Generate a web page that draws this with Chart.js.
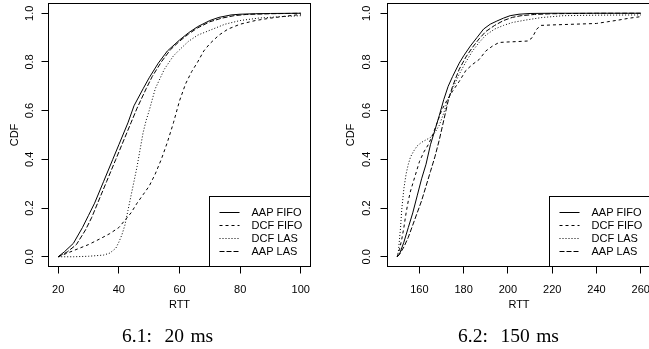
<!DOCTYPE html>
<html>
<head>
<meta charset="utf-8">
<script src="https://cdn.jsdelivr.net/npm/chart.js@4.4.0/dist/chart.umd.min.js"></script>
<style>
  html, body { margin: 0; padding: 0; background: #fff; overflow: hidden; }
  body { width: 649px; height: 349px; position: relative; }
  .panel { position: absolute; top: 0; width: 340px; height: 349px; }
  .panel canvas { display: block; }
  .caption { position: absolute; top: 326px; font-family: "Liberation Serif", "Times New Roman", serif; font-size: 19.5px; line-height: 20px; word-spacing: 1.5px; color: #000; white-space: pre; }
</style>
</head>
<body>
<div class="panel" style="left:0"><canvas id="chart20" width="340" height="349"></canvas></div>
<div class="panel" style="left:324px"><canvas id="chart150" width="340" height="349"></canvas></div>
<div class="caption" style="left:122px">6.1:  20 ms</div>
<div class="caption" style="left:458px">6.2:  150 ms</div>
<script>
const seriesNames = ['AAP FIFO', 'DCF FIFO', 'DCF LAS', 'AAP LAS'];
const cdfTicks = [0, 0.2, 0.4, 0.6, 0.8, 1.0];
const rttTicks20 = [20, 40, 60, 80, 100];
const rttTicks150 = [160, 180, 200, 220, 240, 260];

// --- 20 ms ---
const aapFifo20X = [20, 22, 25, 28, 30, 32, 35, 38, 40, 43, 45, 48, 50, 53, 56, 60, 63, 66, 70, 73, 77, 80, 85, 90, 100];
const aapFifo20Y = [0, 0.02, 0.055, 0.12, 0.17, 0.22, 0.31, 0.40, 0.46, 0.55, 0.62, 0.69, 0.735, 0.795, 0.845, 0.89, 0.92, 0.945, 0.97, 0.983, 0.993, 0.996, 0.998, 0.999, 1.0];
const dcfFifo20X = [20, 23, 27, 30, 34, 37, 40, 42, 44, 46, 48, 50, 52, 54, 56, 58, 60, 62, 64, 66, 68, 70, 73, 76, 80, 85, 90, 95, 100];
const dcfFifo20Y = [0, 0.015, 0.035, 0.05, 0.075, 0.095, 0.12, 0.15, 0.18, 0.22, 0.255, 0.29, 0.34, 0.40, 0.47, 0.55, 0.64, 0.71, 0.76, 0.80, 0.845, 0.875, 0.91, 0.935, 0.955, 0.97, 0.98, 0.988, 0.995];
const dcfLas20X = [20, 25, 30, 35, 37, 39, 40, 41, 42, 43, 44, 45, 46, 47, 48, 49, 50, 52, 55, 58, 60, 63, 66, 70, 75, 80, 86, 92, 100];
const dcfLas20Y = [0, 0, 0.002, 0.007, 0.015, 0.035, 0.06, 0.09, 0.13, 0.19, 0.25, 0.31, 0.37, 0.44, 0.51, 0.56, 0.60, 0.69, 0.77, 0.825, 0.85, 0.885, 0.91, 0.93, 0.955, 0.97, 0.98, 0.985, 0.99];
const aapLas20X = [20, 23, 26, 29, 31, 33, 36, 39, 41, 44, 46, 49, 51, 54, 57, 60, 63, 66, 70, 74, 78, 82, 90, 100];
const aapLas20Y = [0, 0.02, 0.05, 0.11, 0.16, 0.22, 0.31, 0.40, 0.46, 0.55, 0.61, 0.69, 0.74, 0.80, 0.85, 0.885, 0.915, 0.94, 0.965, 0.98, 0.99, 0.995, 0.998, 1.0];

// --- 150 ms ---
const aapFifo150X = [150, 151, 153, 155, 157, 159, 161, 163, 165, 167, 169, 171, 173, 175, 178, 180, 183, 186, 189, 192, 195, 198, 201, 205, 210, 220, 240, 260];
const aapFifo150Y = [0, 0.01, 0.06, 0.12, 0.18, 0.25, 0.32, 0.38, 0.46, 0.52, 0.58, 0.645, 0.70, 0.74, 0.795, 0.825, 0.865, 0.90, 0.935, 0.955, 0.968, 0.98, 0.99, 0.996, 0.999, 1.0, 1.0, 1.0];
const dcfFifo150X = [150, 151, 152, 153, 154, 155, 156, 158, 160, 162, 164, 166, 168, 170, 172, 175, 178, 181, 184, 187, 190, 193, 196, 200, 205, 209, 211, 213, 215, 220, 230, 240, 245, 250, 255, 260];
const dcfFifo150Y = [0, 0.03, 0.07, 0.12, 0.18, 0.23, 0.27, 0.33, 0.39, 0.43, 0.46, 0.50, 0.55, 0.60, 0.635, 0.68, 0.72, 0.765, 0.79, 0.81, 0.845, 0.865, 0.88, 0.882, 0.884, 0.886, 0.90, 0.935, 0.95, 0.952, 0.955, 0.958, 0.965, 0.972, 0.98, 0.986];
const dcfLas150X = [150, 150.5, 151, 151.5, 152, 153, 154, 155, 156, 157.5, 159, 161, 163, 165, 167, 169, 171, 173, 175, 178, 181, 184, 187, 190, 194, 198, 202, 208, 215, 225, 240, 260];
const dcfLas150Y = [0, 0.02, 0.07, 0.12, 0.19, 0.28, 0.34, 0.38, 0.41, 0.435, 0.455, 0.47, 0.48, 0.49, 0.51, 0.54, 0.59, 0.65, 0.69, 0.75, 0.80, 0.845, 0.88, 0.91, 0.935, 0.95, 0.962, 0.972, 0.982, 0.99, 0.992, 0.993];
const aapLas150X = [150, 151, 153, 155, 157, 159, 161, 163, 165, 167, 169, 171, 173, 175, 178, 181, 184, 187, 190, 194, 198, 202, 206, 212, 220, 240, 260];
const aapLas150Y = [0, 0.01, 0.04, 0.08, 0.13, 0.18, 0.23, 0.29, 0.35, 0.41, 0.48, 0.56, 0.64, 0.70, 0.77, 0.82, 0.86, 0.895, 0.925, 0.95, 0.97, 0.983, 0.99, 0.995, 0.998, 1.0, 1.0];

(function() {
  const FONT = { family: '"Liberation Sans", Arial, sans-serif', size: 11 };
  const dashes = [[], [3, 3], [1, 2], [5, 2]];

  function toPoints(xs, ys) {
    return xs.map((x, i) => ({ x: x, y: ys[i] }));
  }

  // box round the plot region, like R's box()
  const plotBox = {
    id: 'plotBox',
    afterDraw(chart) {
      const a = chart.chartArea;
      const ctx = chart.ctx;
      ctx.save();
      ctx.strokeStyle = '#000';
      ctx.lineWidth = 1;
      ctx.strokeRect(a.left, a.top, a.right - a.left, a.bottom - a.top);
      ctx.restore();
    }
  };

  // legend in the bottom right corner of the plot region
  const cornerLegend = {
    id: 'cornerLegend',
    afterDatasetsDraw(chart) {
      const a = chart.chartArea;
      const ctx = chart.ctx;
      const w = 101, h = 70;
      const x0 = a.right - w, y0 = a.bottom - h;
      ctx.save();
      ctx.fillStyle = '#fff';
      ctx.fillRect(x0, y0, w, h);
      ctx.strokeStyle = '#000';
      ctx.lineWidth = 1;
      ctx.strokeRect(x0, y0, w, h);
      ctx.font = FONT.size + 'px ' + FONT.family;
      ctx.textBaseline = 'middle';
      ctx.fillStyle = '#000';
      chart.data.datasets.forEach((ds, i) => {
        const y = Math.round(y0 + 15 + i * 13) + 0.5;
        ctx.setLineDash(ds.borderDash);
        ctx.beginPath();
        ctx.moveTo(x0 + 10, y);
        ctx.lineTo(x0 + 30, y);
        ctx.stroke();
        ctx.fillText(ds.label, x0 + 42, y);
      });
      ctx.restore();
    }
  };

  function buildPanel(canvasId, series, xMin, xMax, xTicks, lay) {
    const datasets = series.map((s, i) => ({
      label: seriesNames[i],
      data: toPoints(s[0], s[1]),
      borderColor: '#000',
      borderWidth: 1,
      borderDash: dashes[i],
      pointRadius: 0,
      fill: false,
      tension: 0
    }));

    return new Chart(document.getElementById(canvasId), {
      type: 'line',
      data: { datasets: datasets },
      options: {
        responsive: false,
        animation: false,
        layout: {
          autoPadding: false,
          padding: { left: 0, top: 3.5, right: lay.right, bottom: 37 }
        },
        plugins: { legend: { display: false }, tooltip: { enabled: false } },
        scales: {
          x: {
            type: 'linear',
            min: xMin,
            max: xMax,
            afterBuildTicks: axis => { axis.ticks = xTicks.map(v => ({ value: v })); },
            afterFit: s => { s.height = 45.5; s.paddingLeft = 0; s.paddingRight = 0; },
            border: { display: false },
            grid: { drawOnChartArea: false, drawTicks: true, tickLength: 7, color: '#000' },
            ticks: { autoSkip: false, maxRotation: 0, padding: 10, color: '#000', font: FONT, callback: v => String(v) },
            title: { display: true, text: 'RTT', color: '#000', font: FONT, padding: { top: 0, bottom: 0 } }
          },
          y: {
            type: 'linear',
            min: -0.04,
            max: 1.04,
            afterBuildTicks: axis => { axis.ticks = cdfTicks.map(v => ({ value: v })); },
            afterFit: s => { s.width = lay.yWidth; s.paddingTop = 0; s.paddingBottom = 0; },
            border: { display: false },
            grid: { drawOnChartArea: false, drawTicks: true, tickLength: 7, color: '#000' },
            ticks: { autoSkip: false, minRotation: 90, maxRotation: 90, crossAlign: 'center', padding: lay.labelPad, color: '#000', font: FONT, callback: v => v.toFixed(1) },
            title: { display: true, text: 'CDF', color: '#000', font: FONT, padding: { top: lay.titlePad, bottom: 0 } }
          }
        }
      },
      plugins: [plotBox, cornerLegend]
    });
  }

  buildPanel('chart20', [
    [aapFifo20X, aapFifo20Y],
    [dcfFifo20X, dcfFifo20Y],
    [dcfLas20X, dcfLas20Y],
    [aapLas20X, aapLas20Y]
  ], 16.8, 103.2, rttTicks20, { yWidth: 48.5, right: 29.5, labelPad: 3.4, titlePad: 8.4 });

  buildPanel('chart150', [
    [aapFifo150X, aapFifo150Y],
    [dcfFifo150X, dcfFifo150Y],
    [dcfLas150X, dcfLas150Y],
    [aapLas150X, aapLas150Y]
  ], 145.6, 264.4, rttTicks150, { yWidth: 63.5, right: 13.5, labelPad: 5.4, titlePad: 19.9 });
})();
</script>
</body>
</html>
